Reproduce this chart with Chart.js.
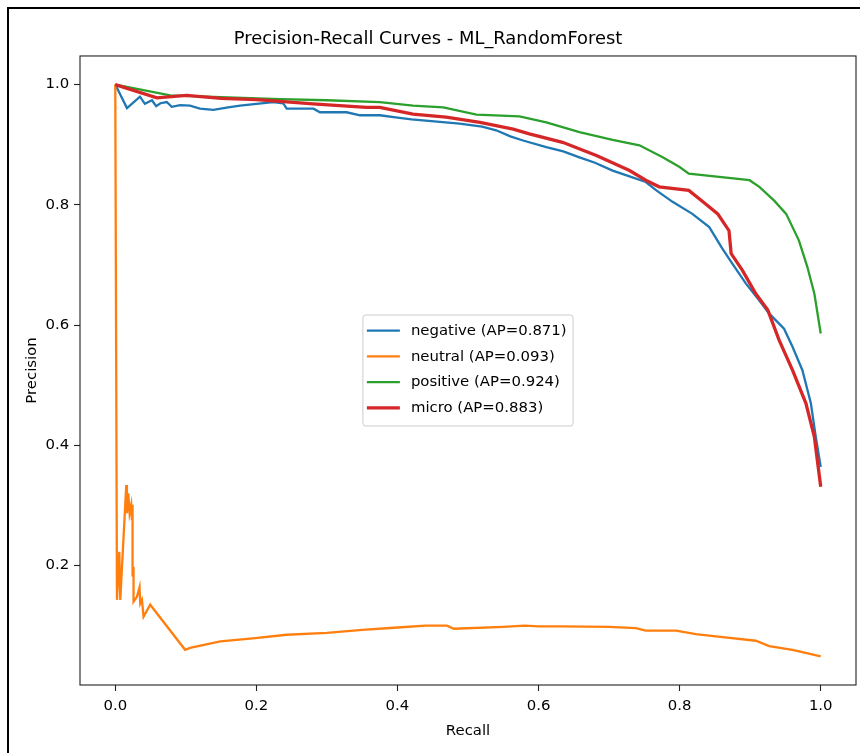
<!DOCTYPE html>
<html>
<head>
<meta charset="utf-8">
<title>Precision-Recall Curves - ML_RandomForest</title>
<script src="https://cdn.jsdelivr.net/npm/chart.js@4/dist/chart.umd.min.js"></script>
<style>
    html, body { margin: 0; padding: 0; background: #fff; overflow: hidden; }
    #wrap { position: relative; width: 860px; height: 753px; }
    #frame {
        position: absolute; left: 7px; top: 7px; width: 1000px; height: 1000px;
        border-left: 2px solid #000; border-top: 2px solid #000; pointer-events: none;
    }
</style>
</head>
<body>
<div id="wrap">
    <canvas id="pr" width="860" height="753"></canvas>
    <div id="frame"></div>
</div>
<script>
// values
const negRecall = [0, 0.0166, 0.035, 0.042, 0.052, 0.058, 0.064, 0.073, 0.080, 0.092, 0.106, 0.12, 0.139, 0.16, 0.177, 0.20, 0.224, 0.238, 0.243, 0.281, 0.29, 0.328, 0.347, 0.375, 0.40, 0.42, 0.44, 0.46, 0.488, 0.52, 0.540, 0.56, 0.578, 0.611, 0.635, 0.658, 0.68, 0.705, 0.73, 0.752, 0.767, 0.79, 0.818, 0.842, 0.859, 0.873, 0.894, 0.913, 0.927, 0.948, 0.960, 0.974, 0.986, 0.993, 1.0];
const negPrecision = [1.0, 0.961, 0.980, 0.968, 0.974, 0.964, 0.969, 0.971, 0.963, 0.966, 0.965, 0.960, 0.958, 0.962, 0.965, 0.968, 0.971, 0.969, 0.960, 0.960, 0.954, 0.954, 0.949, 0.949, 0.945, 0.942, 0.940, 0.938, 0.935, 0.930, 0.924, 0.914, 0.907, 0.896, 0.889, 0.879, 0.870, 0.857, 0.847, 0.838, 0.824, 0.805, 0.785, 0.763, 0.730, 0.705, 0.669, 0.641, 0.619, 0.594, 0.564, 0.525, 0.470, 0.414, 0.364];

const neuRecall = [0, 0.0024, 0.0057, 0.0071, 0.0156, 0.0165, 0.0184, 0.0203, 0.0226, 0.0236, 0.0245, 0.0245, 0.0259, 0.0259, 0.0307, 0.0344, 0.0354, 0.0378, 0.0401, 0.0495, 0.099, 0.106, 0.149, 0.195, 0.243, 0.30, 0.35, 0.40, 0.44, 0.47, 0.48, 0.55, 0.58, 0.60, 0.63, 0.70, 0.738, 0.752, 0.795, 0.823, 0.861, 0.908, 0.927, 0.960, 1.0];
const neuPrecision = [1.0, 0.143, 0.223, 0.143, 0.334, 0.287, 0.320, 0.287, 0.301, 0.276, 0.301, 0.182, 0.198, 0.140, 0.148, 0.164, 0.137, 0.143, 0.115, 0.135, 0.060, 0.063, 0.074, 0.079, 0.085, 0.088, 0.093, 0.097, 0.100, 0.100, 0.095, 0.098, 0.100, 0.099, 0.099, 0.098, 0.096, 0.092, 0.092, 0.086, 0.081, 0.075, 0.066, 0.060, 0.049];

const posRecall = [0, 0.078, 0.15, 0.234, 0.30, 0.375, 0.422, 0.465, 0.512, 0.573, 0.611, 0.658, 0.705, 0.743, 0.776, 0.8, 0.813, 0.899, 0.913, 0.934, 0.951, 0.969, 0.981, 0.991, 1.0];
const posPrecision = [1.0, 0.982, 0.979, 0.976, 0.974, 0.971, 0.965, 0.962, 0.950, 0.947, 0.937, 0.921, 0.908, 0.899, 0.879, 0.863, 0.852, 0.841, 0.830, 0.807, 0.785, 0.741, 0.697, 0.652, 0.586];

const microRecall = [0, 0.059, 0.101, 0.15, 0.2, 0.234, 0.28, 0.356, 0.375, 0.422, 0.469, 0.517, 0.564, 0.587, 0.634, 0.682, 0.729, 0.752, 0.771, 0.813, 0.833, 0.854, 0.870, 0.873, 0.889, 0.908, 0.925, 0.941, 0.960, 0.979, 0.991, 1.0];
const microPrecision = [1.0, 0.978, 0.982, 0.977, 0.975, 0.972, 0.968, 0.962, 0.962, 0.951, 0.946, 0.937, 0.926, 0.918, 0.904, 0.882, 0.857, 0.841, 0.830, 0.824, 0.805, 0.785, 0.757, 0.719, 0.691, 0.652, 0.625, 0.575, 0.525, 0.470, 0.414, 0.331];

const seriesLabels = ['negative (AP=0.871)', 'neutral (AP=0.093)', 'positive (AP=0.924)', 'micro (AP=0.883)'];
const xTicks = [0.0, 0.2, 0.4, 0.6, 0.8, 1.0];
const yTicks = [0.2, 0.4, 0.6, 0.8, 1.0];

const FONT = '"DejaVu Sans", "Liberation Sans", sans-serif';
const SMALL = 14.9;

function zip(xs, ys) {
    return xs.map((x, i) => ({ x: x, y: ys[i] }));
}

// matplotlib-style box around the axes
const axesBox = {
    id: 'axesBox',
    afterDatasetsDraw(chart) {
        const { ctx, chartArea: a } = chart;
        ctx.save();
        ctx.strokeStyle = '#222';
        ctx.lineWidth = 1.1;
        ctx.strokeRect(a.left, a.top, a.right - a.left, a.bottom - a.top);
        ctx.restore();
    }
};

// legend placed in the middle of the plot, like loc="best" did
const centerLegend = {
    id: 'centerLegend',
    afterDraw(chart) {
        const { ctx, chartArea: a } = chart;
        const items = chart.data.datasets;
        ctx.save();
        ctx.font = SMALL + 'px ' + FONT;
        const textW = Math.max.apply(null, items.map(d => ctx.measureText(d.label).width));
        const rowH = 25.7;
        const w = 48 + textW + 6.5;
        const h = 111;
        const x0 = (a.left + a.right) / 2 - w / 2;
        const y0 = (a.top + a.bottom) / 2 - h / 2;

        ctx.beginPath();
        if (ctx.roundRect) ctx.roundRect(x0, y0, w, h, 3);
        else ctx.rect(x0, y0, w, h);
        ctx.fillStyle = 'rgba(255,255,255,0.8)';
        ctx.fill();
        ctx.strokeStyle = '#cccccc';
        ctx.lineWidth = 1;
        ctx.stroke();

        items.forEach((d, i) => {
            const cy = y0 + 15.7 + i * rowH;
            ctx.beginPath();
            ctx.moveTo(x0 + 4, cy);
            ctx.lineTo(x0 + 37, cy);
            ctx.strokeStyle = d.borderColor;
            ctx.lineWidth = d.borderWidth;
            ctx.stroke();
            ctx.fillStyle = '#000';
            ctx.textAlign = 'left';
            ctx.textBaseline = 'middle';
            ctx.fillText(d.label, x0 + 48, cy + 0.5);
        });
        ctx.restore();
    }
};

const colors = ['#1f77b4', '#ff7f0e', '#2ca02c', '#d62728'];
const series = [
    zip(negRecall, negPrecision),
    zip(neuRecall, neuPrecision),
    zip(posRecall, posPrecision),
    zip(microRecall, microPrecision)
];

const datasets = series.map((pts, i) => ({
    label: seriesLabels[i],
    data: pts,
    borderColor: colors[i],
    backgroundColor: colors[i],
    borderWidth: i === 3 ? 3.3 : 2.3,
    pointRadius: 0,
    tension: 0,
    fill: false,
    order: 4 - i
}));

const tickGrid = {
    drawOnChartArea: false,
    drawTicks: true,
    tickLength: 6,
    tickColor: '#222',
    tickWidth: 1.1
};

new Chart(document.getElementById('pr').getContext('2d'), {
    type: 'line',
    data: { datasets },
    options: {
        responsive: false,
        animation: false,
        devicePixelRatio: 1,
        layout: { padding: { top: 0, left: 0, right: 4, bottom: 0 } },
        plugins: {
            legend: { display: false },
            tooltip: { enabled: false },
            title: {
                display: true,
                text: 'Precision-Recall Curves - ML_RandomForest',
                color: '#000',
                font: { family: FONT, size: 17.9, weight: 'normal' },
                padding: { top: 28.2, bottom: 6.3 }
            }
        },
        scales: {
            x: {
                type: 'linear',
                min: -0.05,
                max: 1.05,
                afterFit(scale) { scale.height = 68; },
                afterBuildTicks(scale) { scale.ticks = xTicks.map(v => ({ value: v })); },
                grid: tickGrid,
                border: { display: false },
                ticks: {
                    color: '#000',
                    padding: 6.5,
                    maxRotation: 0,
                    font: { family: FONT, size: SMALL },
                    callback: v => v.toFixed(1)
                },
                title: {
                    display: true,
                    text: 'Recall',
                    color: '#000',
                    font: { family: FONT, size: SMALL },
                    padding: { top: 0, bottom: 13 }
                }
            },
            y: {
                type: 'linear',
                min: 0.0014,
                max: 1.0476,
                afterFit(scale) { scale.width = 80; },
                afterBuildTicks(scale) { scale.ticks = yTicks.map(v => ({ value: v })); },
                grid: tickGrid,
                border: { display: false },
                ticks: {
                    color: '#000',
                    padding: 4.7,
                    font: { family: FONT, size: SMALL },
                    callback: v => v.toFixed(1)
                },
                title: {
                    display: true,
                    text: 'Precision',
                    color: '#000',
                    font: { family: FONT, size: SMALL },
                    padding: { top: 23, bottom: 0 }
                }
            }
        }
    },
    plugins: [axesBox, centerLegend]
});
</script>
</body>
</html>
